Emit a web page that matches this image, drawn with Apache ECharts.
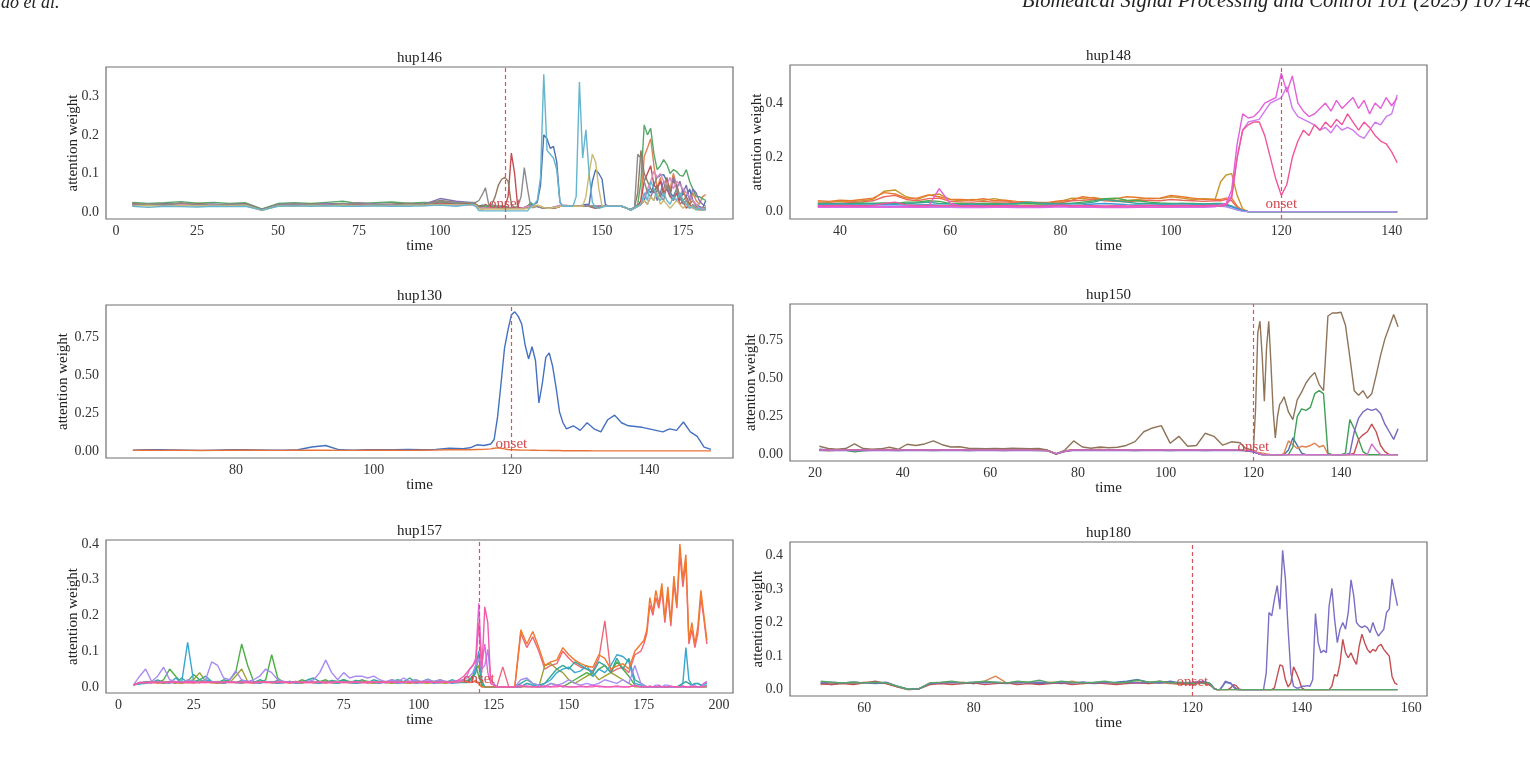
<!DOCTYPE html>
<html>
<head>
<meta charset="utf-8">
<title>attention weight per channel</title>
<script src="https://cdn.jsdelivr.net/npm/echarts@6/dist/echarts.min.js"></script>
<style>
  html, body { margin: 0; padding: 0; background: #fff; }
  #main { width: 1530px; height: 765px; }
</style>
</head>
<body>
<div id="main"></div>
<script>
// sampling grid of the time axis (seconds)
function seq(a, b, step) {
    var r = [];
    for (var x = a; x <= b + 1e-9; x += step) r.push(Math.round(x * 10) / 10);
    return r;
}

var SERIF = '"Liberation Serif", "Times New Roman", serif';
var ONSET = 120;
var ONSET_COLOR = '#d9545a';

// ---------------- hup146 ----------------
var time146 = seq(5, 110, 5).concat(seq(111, 182, 1));
var xTicks146 = [0, 25, 50, 75, 100, 125, 150, 175];
var yTicks146 = [0, 0.1, 0.2, 0.3];
var blue146 = [.020,.018,.020,.019,.018,.020,.018,.017,.006,.018,.020,.019,.021,.020,.019,.020,.018,.020,.021,.025,.022,.020,
    .020,.015,.018,.015,.015,.015,.015,.015,.015,.015,
    .012,.010,.010,.010,.010,.012,.015,.020,.020,.025,
    .070,.200,.190,.165,.170,.130,.025,.015,.015,.015,
    .015,.015,.015,.018,.020,.020,.080,.110,.100,.085,
    .020,.015,.015,.015,.015,.015,.012,.008,.008,.012,
    .015,.020,.030,.060,.050,.070,.090,.095,.097,.080,
    .050,.040,.060,.030,.050,.040,.060,.030,.020,.015,
    .010,.030];
var orange146 = [.019,.018,.020,.017,.021,.018,.019,.020,.006,.021,.018,.020,.019,.017,.021,.019,.018,.020,.019,.022,.020,.021,
    .020,.012,.010,.010,.012,.012,.012,.012,.012,.012,
    .012,.010,.010,.010,.010,.012,.015,.015,.015,.015,
    .012,.010,.010,.010,.012,.012,.015,.015,.015,.015,
    .015,.015,.015,.015,.015,.015,.015,.015,.015,.015,
    .015,.015,.015,.015,.015,.015,.012,.008,.006,.010,
    .015,.030,.144,.166,.190,.120,.060,.090,.040,.080,
    .060,.100,.070,.040,.060,.030,.020,.050,.030,.020,
    .040,.045];
var green146 = [.025,.022,.024,.027,.023,.025,.022,.024,.008,.022,.024,.022,.025,.028,.022,.024,.026,.023,.025,.024,.022,.023,
    .020,.015,.015,.015,.015,.015,.015,.015,.015,.015,
    .012,.010,.010,.010,.010,.012,.015,.025,.015,.015,
    .012,.010,.010,.010,.012,.012,.015,.015,.015,.015,
    .015,.015,.015,.015,.015,.015,.015,.015,.015,.015,
    .015,.015,.015,.015,.015,.015,.012,.008,.006,.012,
    .020,.080,.226,.200,.217,.150,.110,.120,.136,.123,
    .100,.110,.105,.095,.093,.110,.080,.060,.040,.040,
    .035,.030];
var red146 = [.018,.020,.017,.022,.018,.016,.019,.018,.005,.017,.019,.018,.017,.019,.020,.018,.019,.017,.018,.022,.020,.022,
    .020,.010,.008,.010,.010,.010,.010,.010,.012,.015,
    .040,.153,.100,.010,.010,.010,.012,.015,.015,.015,
    .012,.010,.010,.010,.010,.012,.015,.015,.015,.015,
    .015,.015,.015,.015,.015,.015,.012,.010,.012,.015,
    .015,.015,.015,.015,.015,.015,.012,.008,.006,.010,
    .015,.030,.080,.100,.120,.070,.060,.080,.050,.060,
    .040,.030,.050,.020,.030,.010,.020,.010,.010,.005,
    .008,.005];
var purple146 = [.020,.017,.022,.020,.019,.021,.018,.022,.006,.020,.021,.018,.022,.020,.023,.021,.019,.022,.020,.035,.028,.024,
    .020,.012,.010,.010,.010,.010,.010,.010,.010,.010,
    .010,.010,.010,.010,.010,.012,.015,.015,.015,.015,
    .012,.010,.010,.010,.012,.012,.015,.015,.015,.015,
    .015,.015,.015,.015,.015,.015,.015,.015,.015,.015,
    .015,.015,.015,.015,.015,.015,.012,.008,.006,.010,
    .015,.020,.030,.020,.040,.060,.030,.050,.080,.070,
    .040,.090,.060,.080,.050,.070,.030,.060,.050,.030,
    .020,.015];
var brown146 = [.022,.019,.021,.018,.022,.019,.020,.021,.007,.020,.018,.021,.019,.022,.020,.019,.021,.022,.020,.030,.025,.022,
    .020,.015,.015,.020,.015,.020,.040,.070,.085,.090,
    .080,.020,.012,.010,.010,.012,.015,.015,.015,.015,
    .012,.010,.010,.010,.012,.012,.015,.015,.015,.015,
    .015,.015,.015,.015,.015,.015,.012,.012,.015,.015,
    .015,.015,.015,.015,.015,.015,.012,.008,.006,.012,
    .050,.160,.100,.080,.060,.050,.070,.040,.060,.090,
    .050,.080,.070,.040,.030,.040,.020,.030,.015,.010,
    .010,.012];
var pink146 = [.018,.020,.016,.019,.017,.020,.018,.016,.005,.018,.017,.019,.020,.018,.017,.019,.020,.018,.017,.020,.019,.018,
    .015,.010,.010,.010,.010,.010,.010,.010,.010,.010,
    .010,.010,.010,.010,.010,.012,.015,.015,.018,.015,
    .012,.010,.010,.010,.012,.015,.018,.018,.018,.015,
    .015,.015,.015,.015,.015,.015,.015,.015,.015,.015,
    .015,.015,.015,.015,.015,.015,.012,.008,.006,.010,
    .015,.020,.040,.060,.080,.106,.090,.100,.080,.070,
    .090,.060,.080,.070,.060,.050,.040,.030,.020,.010,
    .010,.008];
var gray146 = [.017,.021,.019,.024,.020,.018,.021,.019,.006,.019,.022,.020,.018,.021,.024,.020,.018,.021,.019,.028,.024,.025,
    .025,.030,.045,.063,.020,.020,.015,.010,.010,.010,
    .010,.010,.012,.015,.040,.115,.060,.012,.012,.015,
    .012,.010,.010,.010,.012,.012,.015,.015,.015,.015,
    .015,.015,.015,.015,.015,.015,.015,.012,.015,.015,
    .015,.015,.015,.015,.015,.015,.012,.008,.006,.012,
    .150,.140,.080,.050,.040,.030,.060,.040,.030,.070,
    .050,.030,.060,.040,.020,.030,.010,.020,.010,.005,
    .005,.008];
var olive146 = [.016,.017,.015,.018,.016,.017,.016,.018,.004,.016,.015,.017,.016,.018,.016,.017,.016,.018,.017,.020,.018,.020,
    .018,.010,.008,.008,.008,.008,.008,.008,.008,.008,
    .008,.008,.008,.008,.008,.008,.010,.012,.015,.018,
    .015,.012,.010,.010,.012,.012,.015,.015,.015,.015,
    .015,.015,.015,.015,.040,.100,.150,.130,.060,.015,
    .015,.015,.015,.015,.015,.015,.012,.008,.006,.010,
    .015,.020,.030,.020,.040,.030,.050,.020,.030,.020,
    .010,.020,.030,.020,.010,.020,.015,.010,.008,.005,
    .005,.010];
var cyan146 = [.015,.012,.015,.014,.013,.015,.014,.015,.005,.015,.016,.015,.016,.015,.015,.016,.015,.015,.016,.018,.015,.020,
    .015,.004,.003,.003,.003,.003,.003,.003,.003,.003,
    .003,.003,.003,.003,.003,.003,.003,.015,.020,.030,
    .090,.357,.160,.150,.140,.110,.025,.015,.015,.015,
    .015,.040,.337,.140,.213,.100,.025,.012,.010,.012,
    .015,.015,.015,.015,.015,.015,.012,.008,.005,.010,
    .015,.020,.050,.030,.080,.060,.040,.030,.050,.030,
    .020,.040,.030,.050,.030,.020,.010,.015,.005,.010,
    .005,.010];

// ---------------- hup148 ----------------
var time148 = seq(36, 108, 2).concat(seq(109, 141, 1));
var xTicks148 = [40, 60, 80, 100, 120, 140];
var yTicks148 = [0, 0.2, 0.4];
var gold148 = [.035,.035,.038,.036,.040,.045,.075,.080,.055,.045,.060,.065,.045,.040,.045,.042,.048,.040,.032,.030,
    .030,.032,.038,.050,.048,.052,.045,.042,.040,.045,.050,.048,.055,.050,.045,.048,.045,
    .110,.135,.140,.060,.010,0,0,0,0,0, 0,0,0,0,0,0,0,0,0,0, 0,0,0,0,0,0,0,0,0,0, 0,0,0];
var orange148 = [.040,.038,.042,.040,.045,.050,.070,.065,.050,.050,.062,.055,.045,.045,.042,.048,.040,.042,.038,.036,
    .034,.035,.040,.042,.055,.050,.045,.048,.055,.052,.048,.050,.060,.055,.050,.045,.045,
    .045,.050,.050,.020,.005,0,0,0,0,0, 0,0,0,0,0,0,0,0,0,0, 0,0,0,0,0,0,0,0,0,0, 0,0,0];
var salmon148 = [.030,.032,.030,.034,.036,.040,.055,.060,.045,.040,.048,.050,.038,.036,.035,.038,.035,.036,.033,.032,
    .030,.030,.033,.040,.042,.045,.040,.038,.036,.040,.042,.040,.045,.042,.040,.038,.040,
    .040,.045,.040,.015,.003,0,0,0,0,0, 0,0,0,0,0,0,0,0,0,0, 0,0,0,0,0,0,0,0,0,0, 0,0,0];
var green148 = [.030,.030,.028,.030,.032,.030,.032,.030,.035,.035,.040,.038,.030,.030,.028,.030,.030,.028,.028,.030,
    .028,.028,.030,.030,.035,.040,.048,.050,.042,.040,.035,.032,.030,.030,.030,.028,.028,
    .028,.025,.020,.010,.003,0,0,0,0,0, 0,0,0,0,0,0,0,0,0,0, 0,0,0,0,0,0,0,0,0,0, 0,0,0];
var teal148 = [.028,.028,.030,.028,.028,.030,.030,.028,.030,.032,.035,.030,.028,.026,.028,.026,.026,.028,.030,.035,
    .032,.030,.028,.030,.030,.035,.045,.040,.035,.030,.030,.028,.028,.030,.028,.028,.030,
    .030,.028,.020,.010,.003,0,0,0,0,0, 0,0,0,0,0,0,0,0,0,0, 0,0,0,0,0,0,0,0,0,0, 0,0,0];
var blue148 = [.025,.025,.024,.025,.024,.025,.026,.025,.024,.025,.026,.024,.022,.022,.024,.022,.022,.023,.022,.022,
    .022,.024,.025,.024,.025,.028,.030,.028,.026,.025,.024,.025,.024,.024,.025,.024,.025,
    .025,.022,.018,.012,.005,0,0,0,0,0, 0,0,0,0,0,0,0,0,0,0, 0,0,0,0,0,0,0,0,0,0, 0,0,0];
var violet148 = [.016,.016,.017,.016,.016,.017,.016,.016,.017,.016,.016,.017,.016,.015,.016,.015,.016,.016,.015,.016,
    .015,.016,.018,.016,.017,.016,.015,.016,.015,.016,.017,.016,.016,.017,.016,.016,.018,
    .025,.030,.060,.200,.300,.330,.335,.340,.370,.400,
    .410,.420,.460,.380,.350,.340,.330,.320,.300,.310,
    .290,.320,.300,.310,.300,.280,.270,.300,.330,.320,
    .350,.360,.430];
var magenta148 = [.018,.018,.019,.018,.018,.018,.017,.018,.018,.017,.018,.085,.030,.020,.019,.018,.018,.017,.018,.018,
    .017,.018,.020,.018,.018,.017,.016,.016,.016,.017,.016,.016,.017,.018,.018,.019,.020,
    .025,.030,.080,.250,.360,.345,.350,.370,.400,.410,
    .420,.510,.440,.500,.400,.370,.350,.360,.380,.400,
    .370,.410,.380,.400,.420,.380,.410,.360,.400,.380,
    .420,.390,.420];
var hotpink148 = [.022,.022,.023,.022,.022,.023,.030,.035,.025,.022,.023,.022,.022,.021,.022,.021,.022,.022,.021,.022,
    .021,.022,.024,.022,.023,.022,.021,.022,.021,.022,.023,.022,.022,.023,.022,.022,.024,
    .020,.025,.050,.200,.300,.320,.330,.330,.280,.200,
    .120,.060,.100,.200,.260,.300,.280,.320,.300,.330,
    .310,.340,.320,.360,.330,.300,.330,.310,.280,.260,
    .250,.220,.180];
var lavender148 = [.020,.020,.021,.020,.020,.021,.020,.020,.021,.020,.020,.021,.020,.019,.020,.019,.020,.020,.019,.020,
    .019,.020,.022,.020,.021,.020,.019,.020,.019,.020,.021,.020,.020,.021,.020,.020,.021,
    .020,.018,.012,.006,.001,0,0,0,0,0, 0,0,0,0,0,0,0,0,0,0, 0,0,0,0,0,0,0,0,0,0, 0,0,0];

// ---------------- hup130 ----------------
var time130 = seq(65, 113, 2).concat([114, 115, 116, 117], seq(117.5, 128, 0.5), seq(129, 149, 1));
var xTicks130 = [80, 100, 120, 140];
var yTicks130 = [0, 0.25, 0.5, 0.75];
var blue130 = [.010,.012,.012,.011,.010,.008,.010,.012,.012,.011,.010,.010,.012,.030,.040,.012,.010,.012,.013,.012,
    .014,.012,.015,.022,.020,
    .025,.045,.040,.050,
    .080,.230,.450,.680,.800,.900,.920,.890,.840,.700,.610,.690,.600,.320,.450,.620,.650,.560,.420,.260,.190,.150,
    .170,.140,.190,.150,.130,.210,.240,.190,.170,.165,.160,.150,.140,.130,.150,.140,.195,.130,.100,.030,.015];
var orange130 = [.008,.009,.008,.009,.008,.007,.008,.009,.010,.009,.008,.008,.009,.010,.009,.008,.008,.009,.010,.009,
    .008,.009,.010,.012,.012,
    .012,.014,.015,.018,
    .022,.025,.022,.018,.014,.012,.012,.011,.010,.010,.010,.009,.009,.008,.008,.008,.007,.007,.007,.007,.006,.006,
    .006,.006,.006,.005,.005,.005,.005,.005,.005,.005,.005,.005,.005,.005,.005,.005,.005,.005,.005,.005,.005];

// ---------------- hup150 ----------------
var time150 = seq(21, 117, 2).concat(seq(118, 127, 0.5), seq(128, 153, 1));
var xTicks150 = [20, 40, 60, 80, 100, 120, 140];
var yTicks150 = [0, 0.25, 0.5, 0.75];
var blue150 = [.035,.030,.032,.030,.028,.030,.032,.030,.028,.030,.032,.030,.028,.030,.032,.030,.028,.030,.032,.030,
    .028,.030,.032,.030,.028,.030,.028,.006,.022,.032,.030,.028,.030,.032,.030,.028,.030,.032,.030,.028,
    .030,.032,.030,.028,.030,.032,.030,.028,.030,
    .028,.026,.024,.022,.020,.015,.008,.003,0,0,0,0,0,0,0,0,0,0,0,
    .030,.110,.060,.010,0,0,0,0,0,0,0,0,0,0,0,0,0,0,0,0,0,0,0,0,0,0];
var orange150 = [.030,.025,.028,.030,.032,.030,.028,.030,.032,.030,.028,.030,.032,.030,.028,.030,.032,.030,.028,.030,
    .032,.030,.028,.030,.032,.030,.028,.005,.025,.030,.032,.030,.035,.030,.032,.030,.028,.030,.032,.030,
    .028,.030,.032,.030,.028,.030,.032,.030,.028,
    .026,.025,.022,.020,.020,.018,.015,.012,.010,.008,.005,.003,0,0,0,0,0,0,.010,
    .090,.065,.040,.055,.050,.060,.075,.050,.060,.005,0,0,0,0,0,0,0,0,0,0,0,0,0,0,0,0];
var green150 = [.030,.028,.030,.028,.018,.025,.028,.030,.028,.026,.028,.030,.028,.026,.028,.030,.028,.026,.028,.030,
    .028,.026,.028,.030,.028,.026,.025,.004,.020,.030,.028,.030,.032,.028,.030,.028,.026,.028,.030,.028,
    .026,.028,.030,.028,.026,.028,.030,.028,.030,
    .028,.026,.025,.022,.020,.015,.008,.003,0,0,0,0,0,0,0,0,0,0,0,
    0,.050,.250,.300,.290,.310,.400,.420,.400,.010,0,0,0,.010,.230,.170,.100,.020,0,0,0,0,0,0,0,0];
var red150 = [.032,.030,.028,.030,.032,.030,.028,.030,.032,.030,.028,.030,.032,.030,.028,.030,.032,.030,.028,.030,
    .032,.030,.028,.030,.032,.030,.028,.004,.024,.030,.032,.030,.028,.030,.032,.030,.028,.030,.032,.030,
    .028,.030,.032,.030,.028,.030,.032,.030,.028,
    .028,.026,.024,.022,.020,.015,.008,.003,0,0,0,0,0,0,0,0,0,0,0,
    0,0,0,0,0,0,0,0,0,0,0,0,0,0,0,.010,.100,.130,.150,.200,.150,.060,.020,0,0,0];
var purple150 = [.026,.028,.026,.028,.026,.028,.026,.028,.026,.028,.026,.028,.026,.028,.026,.028,.026,.028,.026,.028,
    .026,.028,.026,.028,.026,.028,.026,.005,.022,.028,.026,.028,.026,.028,.026,.028,.026,.028,.026,.028,
    .026,.028,.026,.028,.026,.028,.026,.028,.026,
    .025,.024,.022,.020,.018,.012,.006,.002,0,0,0,0,0,0,0,0,0,0,0,
    0,0,0,0,0,0,0,0,0,0,0,0,0,0,.010,.150,.240,.280,.300,.290,.300,.270,.200,.150,.100,.170];
var brown150 = [.055,.040,.035,.040,.070,.040,.035,.038,.048,.035,.068,.060,.070,.090,.065,.050,.052,.042,.040,.038,
    .040,.038,.042,.040,.038,.040,.030,.005,.030,.090,.050,.042,.050,.045,.048,.060,.085,.150,.175,.190,
    .075,.120,.055,.060,.140,.120,.062,.084,.078,
    .045,.040,.035,.030,.030,.300,.800,.876,.650,.350,.700,.876,.600,.290,.110,.250,.330,.350,.380,
    .280,.230,.360,.410,.470,.510,.540,.460,.420,.910,.930,.930,.935,.850,.640,.420,.390,.420,.370,.400,
    .520,.650,.760,.840,.920,.840];
var pink150 = [.030,.030,.030,.030,.030,.030,.030,.030,.030,.030,.030,.030,.030,.030,.030,.030,.030,.030,.030,.030,
    .030,.030,.030,.030,.030,.028,.025,.006,.022,.030,.030,.030,.030,.030,.030,.030,.030,.030,.030,.030,
    .030,.030,.030,.030,.030,.030,.030,.030,.030,
    .028,.027,.026,.025,.024,.020,.010,.003,0,0,0,0,0,0,0,0,0,0,0,
    0,0,0,0,0,0,0,0,0,0,0,0,0,0,0,0,0,0,0,.070,.030,0,0,0,0,0];

// ---------------- hup157 ----------------
var time157 = seq(5, 115, 2).concat(seq(116, 124, 1), seq(126, 174, 2), seq(175, 196, 1));
var xTicks157 = [0, 25, 50, 75, 100, 125, 150, 175, 200];
var yTicks157 = [0, 0.1, 0.2, 0.3, 0.4];
var salmon157 = [.006,.011,.013,.012,.011,.013,.012,.012,.013,.012,.011,.013,.012,.013,.012,.011,.013,.012,.013,.012,
    .011,.013,.012,.013,.012,.013,.011,.012,.013,.012,.013,.012,.011,.013,.012,.013,.012,.013,.012,.011,
    .013,.012,.013,.012,.013,.012,.011,.013,.012,.013,.012,.013,.012,.013,.012,.014,
    .014,.012,.014,.016,.008,0,0,0,0,
    0,.056,0,0,.150,.110,.140,.100,.050,.060,.065,.100,.080,.065,.055,.050,.045,.080,.185,.040,.050,.055,.040,.090,.100,
    .120,.150,.230,.200,.250,.220,.270,.180,.260,.170,.290,.220,.370,.280,.350,.120,.160,.110,.150,.250,.190,.120];
var olive157 = [.006,.010,.012,.015,.012,.010,.015,.012,.010,.015,.020,.040,.015,.012,.010,.015,.012,.030,.050,.015,
    .012,.015,.012,.015,.010,.012,.015,.012,.010,.015,.012,.010,.015,.012,.010,.015,.012,.010,.015,.012,
    .010,.015,.012,.010,.015,.012,.010,.015,.012,.010,.015,.012,.010,.015,.012,.015,
    .015,.020,.030,.050,.060,.005,0,0,0,
    0,0,0,0,0,0,0,0,.060,.065,.050,.040,.020,.010,.020,.030,.040,.020,.030,.040,.030,.020,.010,0,0,
    0,0,0,0,0,0,0,0,0,0,0,0,0,0,0,0,0,0,0,0,0,0];
var green157 = [.006,.010,.012,.015,.012,.020,.050,.030,.012,.015,.035,.020,.015,.012,.015,.012,.020,.040,.120,.060,
    .015,.012,.020,.090,.025,.012,.015,.012,.020,.015,.012,.015,.020,.012,.015,.020,.015,.012,.020,.015,
    .012,.015,.012,.020,.015,.012,.015,.020,.012,.015,.012,.020,.015,.012,.015,.015,
    .015,.020,.030,.060,.030,.005,0,0,0,
    0,0,0,0,0,.010,.005,0,0,.010,.005,0,.010,.020,.030,.040,.030,.050,.060,.040,.070,.050,.030,.005,0,
    0,0,0,0,0,0,0,0,0,0,0,0,0,0,0,0,0,0,0,0,0,0];
var teal157 = [.006,.010,.015,.012,.020,.012,.015,.010,.025,.012,.015,.020,.030,.015,.012,.020,.015,.012,.018,.015,
    .012,.020,.015,.012,.018,.015,.012,.015,.012,.020,.025,.015,.012,.018,.015,.020,.012,.018,.015,.012,
    .020,.015,.012,.015,.020,.015,.025,.012,.015,.022,.015,.018,.012,.020,.015,.018,
    .018,.020,.025,.040,.090,.010,0,0,0,
    0,0,0,0,.010,.020,.010,.005,.010,.030,.050,.060,.050,.070,.060,.050,.040,.070,.060,.040,.080,.050,.080,.020,.010,
    .005,0,0,0,0,0,0,0,0,0,0,0,.005,.010,.015,.010,.005,.010,.010,.005,.008,.010];
var cyan157 = [.006,.008,.010,.012,.015,.012,.010,.025,.012,.125,.015,.012,.020,.015,.012,.010,.015,.012,.010,.015,
    .012,.010,.015,.012,.010,.012,.015,.010,.012,.015,.012,.010,.015,.012,.010,.015,.012,.010,.012,.015,
    .012,.010,.015,.012,.010,.012,.015,.010,.012,.015,.010,.012,.015,.010,.012,.012,
    .012,.015,.020,.060,.100,.020,0,0,0,
    0,0,0,0,0,.010,.005,0,.010,.020,.040,.050,.055,.040,.045,.060,.030,.050,.040,.060,.090,.085,.070,.010,.005,
    0,0,0,0,0,0,0,0,0,0,0,0,0,.010,.110,.020,.005,.008,.010,.005,.005,.005];
var lavender157 = [.006,.030,.050,.015,.030,.055,.020,.015,.012,.020,.015,.012,.020,.070,.060,.025,.020,.045,.020,.015,
    .020,.030,.050,.040,.020,.015,.012,.015,.012,.015,.020,.040,.075,.040,.020,.040,.025,.030,.030,.025,
    .030,.020,.015,.020,.015,.025,.015,.020,.015,.020,.015,.020,.015,.015,.018,.020,
    .025,.030,.040,.060,.080,.050,.060,.105,.020,
    0,0,0,0,.020,.025,.010,.005,0,.010,.005,.010,.020,.010,.005,.010,.005,.010,.020,.015,.010,.020,.010,.060,.010,
    .005,0,0,0,.005,.005,0,.005,.005,0,0,0,0,0,0,0,.005,0,0,0,.010,.015];
var orange157 = [.005,.012,.012,.013,.012,.014,.012,.013,.012,.013,.012,.014,.013,.012,.013,.012,.014,.013,.012,.013,
    .012,.013,.014,.012,.013,.014,.012,.013,.014,.013,.012,.014,.013,.012,.014,.013,.012,.014,.013,.014,
    .012,.013,.014,.012,.013,.014,.013,.012,.014,.013,.014,.012,.014,.013,.014,.015,
    .015,.012,.015,.018,.010,0,0,0,0,
    0,0,0,0,.160,.120,.155,.110,.060,.070,.075,.110,.090,.075,.065,.058,.055,.090,.080,.050,.058,.065,.050,.100,.120,
    .130,.160,.250,.210,.270,.230,.290,.190,.280,.180,.310,.230,.400,.300,.370,.130,.180,.120,.170,.270,.200,.130];
var magenta157 = [.006,.012,.013,.012,.014,.013,.012,.014,.013,.012,.014,.013,.012,.014,.013,.012,.014,.013,.012,.014,
    .013,.012,.014,.013,.012,.014,.013,.012,.014,.013,.012,.014,.013,.012,.014,.013,.012,.014,.013,.012,
    .014,.013,.012,.014,.013,.012,.014,.013,.012,.014,.013,.012,.014,.013,.014,.020,
    .030,.050,.060,.080,.234,.060,.120,.040,.010,
    0,0,0,0,.005,0,0,0,0,0,.005,0,0,0,0,0,.005,0,0,0,0,0,0,.005,0,
    0,0,0,0,0,0,0,0,0,0,0,0,0,0,0,0,0,0,0,0,.010,.015];
var pink157 = [.006,.013,.012,.014,.013,.012,.014,.013,.012,.014,.013,.012,.014,.013,.012,.014,.013,.012,.014,.013,
    .012,.014,.013,.012,.014,.013,.012,.014,.013,.012,.014,.013,.012,.014,.013,.012,.014,.013,.012,.014,
    .013,.012,.014,.013,.012,.014,.013,.012,.014,.013,.012,.014,.013,.012,.018,.030,
    .040,.050,.060,.070,.180,.040,.224,.180,.010,
    0,0,0,0,0,.003,0,0,.003,0,0,.003,0,0,.003,0,0,.003,0,0,.003,0,0,.003,0,
    0,0,.003,0,0,.003,0,0,0,.003,0,0,0,.003,0,0,0,.003,0,0,0,.003];

// ---------------- hup180 ----------------
var time180 = seq(52, 122, 2).concat(seq(123, 157.5, 0.5));
var xTicks180 = [60, 80, 100, 120, 140, 160];
var yTicks180 = [0, 0.1, 0.2, 0.3, 0.4];
var orange180 = [.015,.018,.020,.018,.022,.020,.018,.008,0,.002,.020,.018,.020,.022,.018,.025,.040,.020,.022,.020,
    .018,.022,.020,.025,.018,.020,.022,.018,.020,.022,.018,.020,.018,.015,.020,.018,
    .015,.010,.002,0,0,0,0,0,0,0, 0,0,0,0,0,0,0,0,0,0, 0,0,0,0,0,0,0,0,0,0, 0,0,0,0,0,0,0,0,0,0,
    0,0,0,0,0,0,0,0,0,0, 0,0,0,0,0,0,0,0,0,0, 0,0,0,0,0,0,0,0,0,0];
var blue180 = [.020,.015,.020,.022,.020,.018,.020,.010,.001,.003,.018,.020,.022,.020,.018,.022,.020,.018,.020,.022,
    .018,.020,.018,.020,.022,.018,.020,.022,.025,.030,.022,.020,.025,.018,.020,.020,
    .020,.012,.003,0,0,.010,.022,.020,.018,.010, .003,0,0,0,0,0,0,0,0,0, 0,0,0,0,0,0,0,0,0,0, 0,0,0,0,0,0,0,0,0,0,
    0,0,0,0,0,0,0,0,0,0, 0,0,0,0,0,0,0,0,0,0, 0,0,0,0,0,0,0,0,0,0];
var red180 = [.018,.015,.018,.015,.020,.025,.018,.008,0,.002,.015,.018,.015,.018,.020,.015,.018,.020,.015,.018,
    .015,.018,.020,.015,.018,.020,.018,.015,.018,.020,.018,.025,.020,.018,.015,.022,
    .015,.010,.003,0,0,0,0,0,.005,.015,
    .012,.002,0,0,0,0,0,0,0,0,
    0,0,0,0,.005,.040,.074,.070,.030,.008,
    .020,.068,.050,.030,.005,0,0,0,0,0,
    0,0,0,0,0,.010,.045,.040,.080,.150,
    .110,.095,.110,.090,.075,.130,.165,.140,.120,.110,
    .120,.115,.130,.135,.120,.110,.100,.040,.020,.015];
var purple180 = [.020,.022,.020,.022,.020,.020,.022,.010,.001,.002,.018,.020,.022,.020,.022,.020,.022,.020,.022,.020,
    .022,.020,.022,.020,.022,.020,.022,.020,.022,.020,.022,.020,.022,.020,.022,.025,
    .020,.015,.002,0,0,.010,.025,.022,.020,.008,
    0,0,0,0,0,0,0,0,0,0,
    0,.050,.230,.220,.270,.310,.240,.415,.330,.180,
    .050,.010,.005,.005,.010,.010,.012,.010,.030,.227,
    .140,.110,.117,.110,.250,.302,.210,.140,.180,.200,
    .180,.230,.327,.280,.200,.190,.185,.190,.185,.170,
    .200,.177,.160,.170,.180,.230,.240,.330,.290,.250];
var green180 = [.025,.022,.020,.022,.020,.022,.020,.010,.001,.003,.020,.022,.025,.020,.022,.025,.022,.020,.025,.022,
    .028,.020,.025,.022,.020,.022,.025,.020,.022,.028,.022,.025,.020,.022,.018,.020,
    .020,.012,.003,0,0,0,0,0,0,0, 0,0,0,0,0,0,0,0,0,0, 0,0,0,0,0,0,0,0,0,0, 0,0,0,0,0,0,0,0,0,0,
    0,0,0,0,0,0,0,0,0,0, 0,0,0,0,0,0,0,0,0,0, 0,0,0,0,0,0,0,0,0,0];

// ---------------- panels ----------------
var panels = [
    {title: 'hup146', box: [106, 67, 627, 152], xr: [-3.1, 190.4], yr: [-0.018, 0.376], yDec: 1, yGap: 25,
        t: time146, xt: xTicks146, yt: yTicks146,
        lines: [[blue146, '#4c72b0'], [orange146, '#dd8452'], [green146, '#55a868'], [red146, '#c44e52'],
            [purple146, '#8172b3'], [brown146, '#937860'], [pink146, '#da8bc3'], [gray146, '#8c8c8c'],
            [olive146, '#ccb974'], [cyan146, '#64b5cd']]},
    {title: 'hup148', box: [790, 65, 637, 154], xr: [30.96, 146.4], yr: [-0.027, 0.54], yDec: 1, yGap: 25,
        t: time148, xt: xTicks148, yt: yTicks148,
        lines: [[gold148, '#c9962c'], [orange148, '#e9782f'], [salmon148, '#ea6a5a'], [green148, '#4caa4c'],
            [teal148, '#35a895'], [blue148, '#3c95d6'], [lavender148, '#a98ff0'], [violet148, '#cf78ef'],
            [magenta148, '#e45fd8'], [hotpink148, '#f2559b']]},
    {title: 'hup130', box: [106, 305, 627, 153], xr: [61.1, 152.2], yr: [-0.042, 0.965], yDec: 2, yGap: 35,
        t: time130, xt: xTicks130, yt: yTicks130,
        lines: [[blue130, '#4470c0'], [orange130, '#e8743b']]},
    {title: 'hup150', box: [790, 304, 637, 157], xr: [14.3, 159.6], yr: [-0.042, 0.989], yDec: 2, yGap: 31,
        t: time150, xt: xTicks150, yt: yTicks150,
        lines: [[blue150, '#4c72b0'], [orange150, '#dd8452'], [green150, '#3f9f55'], [red150, '#c44e52'],
            [purple150, '#7468bf'], [brown150, '#8f7459'], [pink150, '#d070c8']]},
    {title: 'hup157', box: [106, 540, 627, 153], xr: [-4.2, 204.7], yr: [-0.017, 0.411], yDec: 1, yGap: 25,
        t: time157, xt: xTicks157, yt: yTicks157,
        lines: [[salmon157, '#f06678'], [olive157, '#9fa034'], [green157, '#4fae45'], [teal157, '#33a894'],
            [cyan157, '#38a6cf'], [lavender157, '#a88bf3'], [orange157, '#f2792c'], [magenta157, '#e467dd'],
            [pink157, '#f45aa8']]},
    {title: 'hup180', box: [790, 542, 637, 154], xr: [46.4, 162.9], yr: [-0.019, 0.44], yDec: 1, yGap: 24,
        t: time180, xt: xTicks180, yt: yTicks180,
        lines: [[orange180, '#dd8452'], [blue180, '#4c72b0'], [red180, '#c44e52'], [purple180, '#7b6fc4'],
            [green180, '#55a868']]}
];

var grids = [], xAxes = [], yAxes = [], series = [], graphics = [];

panels.forEach(function (p, i) {
    grids.push({
        left: p.box[0], top: p.box[1], width: p.box[2], height: p.box[3],
        show: true, borderColor: '#707070', borderWidth: 1.2, backgroundColor: 'transparent'
    });
    xAxes.push({
        type: 'value', gridIndex: i, min: p.xr[0], max: p.xr[1],
        name: 'time', nameLocation: 'middle', nameGap: 20, nameMoveOverlap: false,
        nameTextStyle: {fontFamily: SERIF, fontSize: 15, color: '#222'},
        axisLine: {show: false}, axisTick: {show: false}, splitLine: {show: false},
        axisLabel: {customValues: p.xt, margin: 5, fontFamily: SERIF, fontSize: 14, color: '#333'}
    });
    var dec = p.yDec;
    yAxes.push({
        type: 'value', gridIndex: i, min: p.yr[0], max: p.yr[1],
        name: 'attention weight', nameLocation: 'middle', nameGap: p.yGap, nameMoveOverlap: false,
        nameTextStyle: {fontFamily: SERIF, fontSize: 15, color: '#222'},
        axisLine: {show: false}, axisTick: {show: false}, splitLine: {show: false},
        axisLabel: {
            customValues: p.yt, margin: 7, fontFamily: SERIF, fontSize: 14, color: '#333',
            formatter: function (v) { return Number(v).toFixed(dec); }
        }
    });
    p.lines.forEach(function (ln) {
        series.push({
            type: 'line', xAxisIndex: i, yAxisIndex: i,
            symbol: 'none', showSymbol: false, silent: true, clip: true,
            lineStyle: {width: 1.4, color: ln[1]}, itemStyle: {color: ln[1]},
            emphasis: {disabled: true},
            data: p.t.map(function (x, j) { return [x, ln[0][j]]; })
        });
    });
    // seizure onset: dashed vertical line and its label, on a series of its own colour
    series.push({
        type: 'line', xAxisIndex: i, yAxisIndex: i, data: [], silent: true, z: 3,
        color: ONSET_COLOR, lineStyle: {color: ONSET_COLOR}, itemStyle: {color: ONSET_COLOR},
        markLine: {
            silent: true, symbol: ['none', 'none'], label: {show: false},
            lineStyle: {color: ONSET_COLOR, type: [4, 3], width: 1.2},
            data: [{xAxis: ONSET}]
        },
        markPoint: {
            silent: true, symbol: 'circle', symbolSize: 0,
            itemStyle: {color: ONSET_COLOR},
            label: {show: true, formatter: 'onset', position: 'top', distance: 0,
                color: '#d04a50', fontFamily: SERIF, fontSize: 15},
            data: [{coord: [ONSET, 0]}]
        }
    });
    graphics.push({
        type: 'text', x: p.box[0] + p.box[2] / 2, y: p.box[1] - 1,
        style: {text: p.title, font: '15px ' + SERIF, fill: '#222', textAlign: 'center', textVerticalAlign: 'bottom'}
    });
});

// running page header of the source article (cut at the top edge)
graphics.push({type: 'text', x: 1, y: 12,
    style: {text: 'ao et al.', font: 'italic 18px ' + SERIF, fill: '#222', textVerticalAlign: 'bottom'}});
graphics.push({type: 'text', x: 1022, y: 12,
    style: {text: 'Biomedical Signal Processing and Control 101 (2025) 107148', font: 'italic 20.5px ' + SERIF,
        fill: '#222', textVerticalAlign: 'bottom'}});

var chart = echarts.init(document.getElementById('main'));
chart.setOption({
    animation: false,
    backgroundColor: '#fff',
    grid: grids,
    xAxis: xAxes,
    yAxis: yAxes,
    series: series,
    graphic: graphics
});
</script>
</body>
</html>
